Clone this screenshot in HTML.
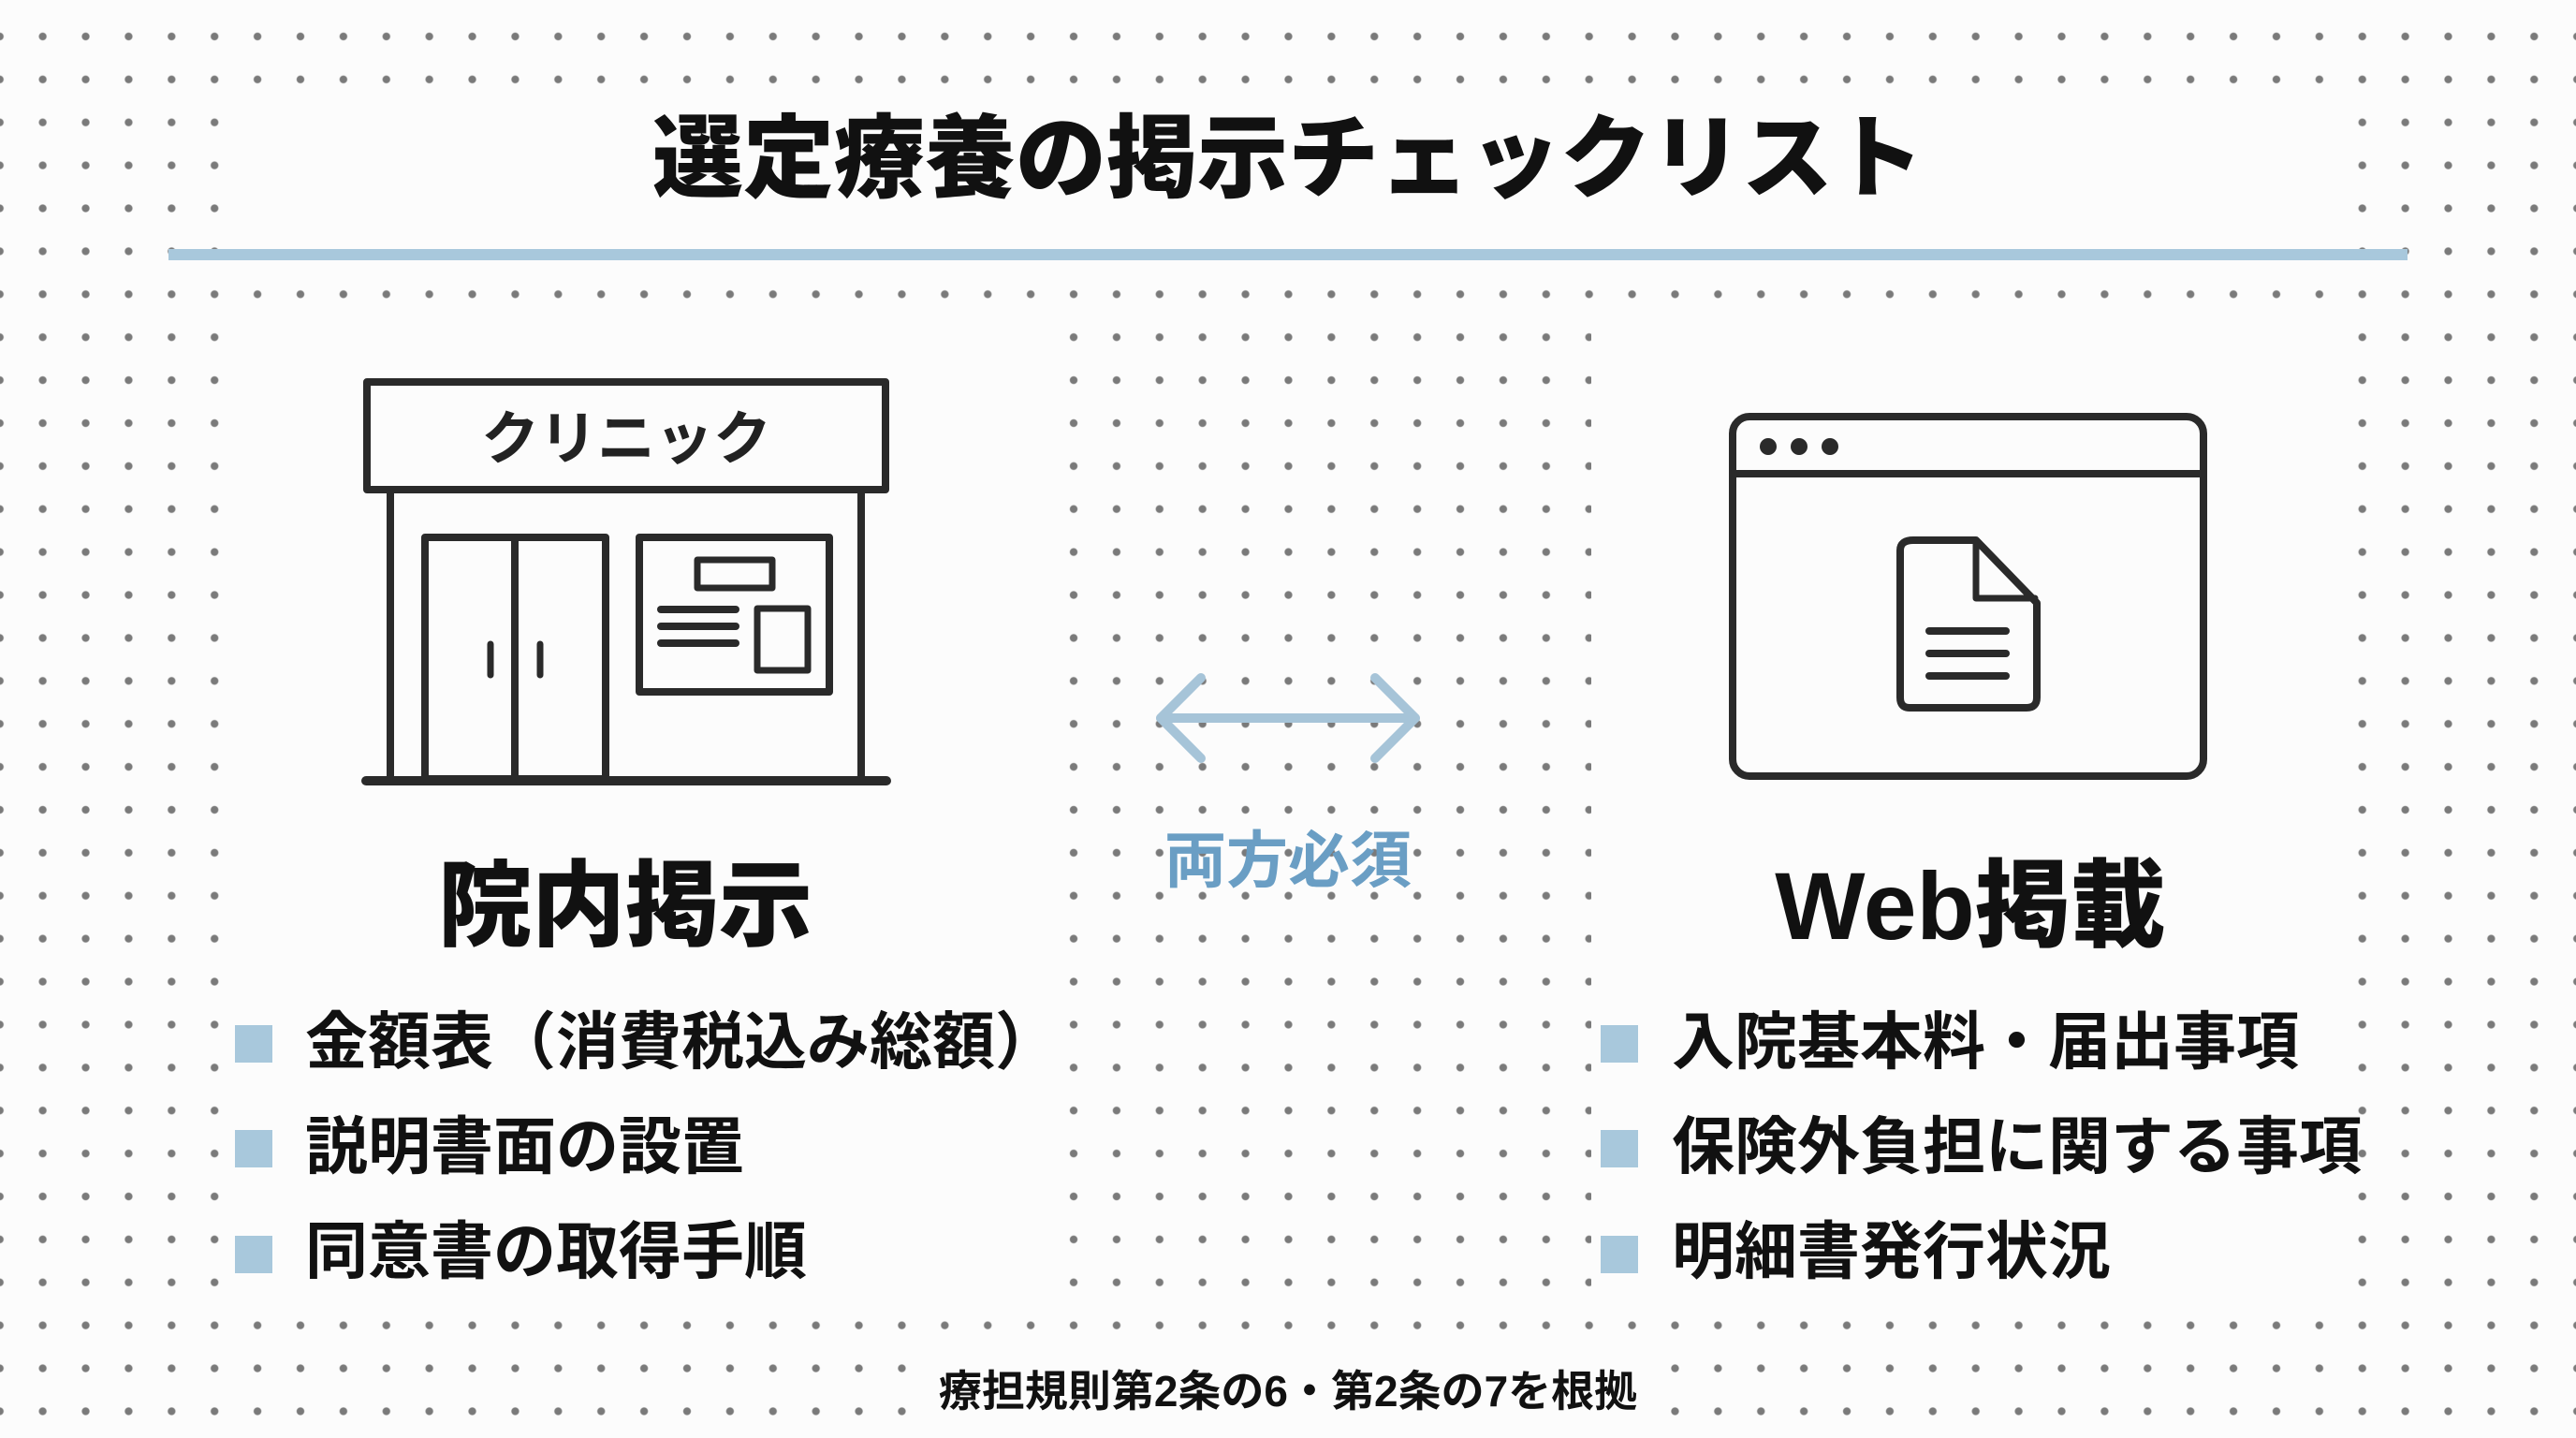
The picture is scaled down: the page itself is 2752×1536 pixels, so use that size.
<!DOCTYPE html>
<html><head><meta charset="utf-8">
<style>
html,body{margin:0;padding:0}
body{width:2752px;height:1536px;position:relative;overflow:hidden;background:#fcfcfc;
background-image:radial-gradient(circle,#7a7a7a 3.6px,rgba(0,0,0,0) 4.6px);
background-size:45.9px 45.9px;background-position:22.7px 16px;
font-family:"Liberation Sans","Noto Sans CJK JP",sans-serif;color:#111}
.p{position:absolute;background:#fcfcfc}
.t{position:absolute;white-space:nowrap;font-weight:900}
.b{position:absolute;width:40px;height:40px;background:#a8c8dc}
.li{position:absolute;font-size:67px;font-weight:700;white-space:nowrap;line-height:1}
</style></head><body>
<div class="p" style="left:250px;top:108px;width:2252px;height:182px"></div>
<div class="p" style="left:250px;top:335px;width:868px;height:1060px"></div>
<div class="p" style="left:1700px;top:335px;width:802px;height:1060px"></div>
<div class="p" style="left:975px;top:1440px;width:800px;height:80px"></div>

<div class="t" style="left:0;width:2752px;text-align:center;top:110px;font-size:97px;line-height:120px">選定療養の掲示チェックリスト</div>
<div style="position:absolute;left:180px;top:266px;width:2392px;height:12px;background:#a8c8dc"></div>

<svg style="position:absolute;left:0;top:0" width="2752" height="1536">
<g fill="none" stroke="#2a2a2a" stroke-width="8" stroke-linejoin="round" stroke-linecap="round">
<rect x="392" y="408" width="554" height="115"/>
<line x1="417" y1="523" x2="417" y2="832"/><line x1="920" y1="523" x2="920" y2="832"/>
<line x1="391" y1="834" x2="947" y2="834" stroke-width="10"/>
<rect x="454" y="574" width="193" height="258"/>
<line x1="550" y1="574" x2="550" y2="832"/>
<line x1="524" y1="688" x2="524" y2="721" stroke-width="7"/><line x1="577" y1="688" x2="577" y2="721" stroke-width="7"/>
<rect x="683" y="574" width="203" height="165"/>
<rect x="745" y="598" width="80" height="30" stroke-width="7"/>
<rect x="809" y="650" width="54" height="66" stroke-width="7"/>
<line x1="706" y1="651" x2="786" y2="651" stroke-width="8"/><line x1="706" y1="669" x2="786" y2="669" stroke-width="8"/><line x1="706" y1="687" x2="786" y2="687" stroke-width="8"/>
<rect x="1851" y="445" width="503" height="384" rx="18"/>
<line x1="1851" y1="506" x2="2354" y2="506"/>
<path d="M2044 577 H2111 L2176 644 V745 Q2176 756 2165 756 H2040 Q2030 756 2030 745 V588 Q2030 577 2044 577 Z"/>
<path d="M2111 579 V639 H2174" stroke-width="7"/>
<line x1="2061" y1="674" x2="2143" y2="674"/><line x1="2061" y1="698" x2="2143" y2="698"/><line x1="2061" y1="722" x2="2143" y2="722"/>
</g>
<g fill="#2a2a2a"><circle cx="1889" cy="477" r="9"/><circle cx="1922" cy="477" r="9"/><circle cx="1955" cy="477" r="9"/></g>
<g fill="none" stroke="#a6c4d8" stroke-width="10" stroke-linecap="round" stroke-linejoin="round">
<line x1="1240" y1="767" x2="1512" y2="767"/>
<polyline points="1283,724 1240,767 1283,810"/>
<polyline points="1469,724 1512,767 1469,810"/>
</g>
</svg>

<div class="t" style="left:392px;width:554px;top:418px;font-size:62px;text-align:center;font-weight:700;color:#222">クリニック</div>
<div class="t" style="left:1180px;width:392px;text-align:center;top:866px;font-size:66px;color:#6a9ec4;font-weight:700">両方必須</div>
<div class="t" style="left:368px;width:600px;text-align:center;top:886px;font-size:100px">院内掲示</div>
<div class="t" style="left:1800px;width:610px;text-align:center;top:886px;font-size:102px">Web掲載</div>

<div class="b" style="left:251px;top:1095px"></div><div class="li" style="left:326px;top:1080px">金額表（消費税込み総額）</div>
<div class="b" style="left:251px;top:1207px"></div><div class="li" style="left:326px;top:1192px">説明書面の設置</div>
<div class="b" style="left:251px;top:1320px"></div><div class="li" style="left:326px;top:1304px">同意書の取得手順</div>

<div class="b" style="left:1710px;top:1095px"></div><div class="li" style="left:1786px;top:1080px">入院基本料・届出事項</div>
<div class="b" style="left:1710px;top:1207px"></div><div class="li" style="left:1786px;top:1192px">保険外負担に関する事項</div>
<div class="b" style="left:1710px;top:1320px"></div><div class="li" style="left:1786px;top:1304px">明細書発行状況</div>

<div class="t" style="left:0;width:2752px;text-align:center;top:1450px;font-size:46px;font-weight:700">療担規則第2条の6・第2条の7を根拠</div>
</body></html>
